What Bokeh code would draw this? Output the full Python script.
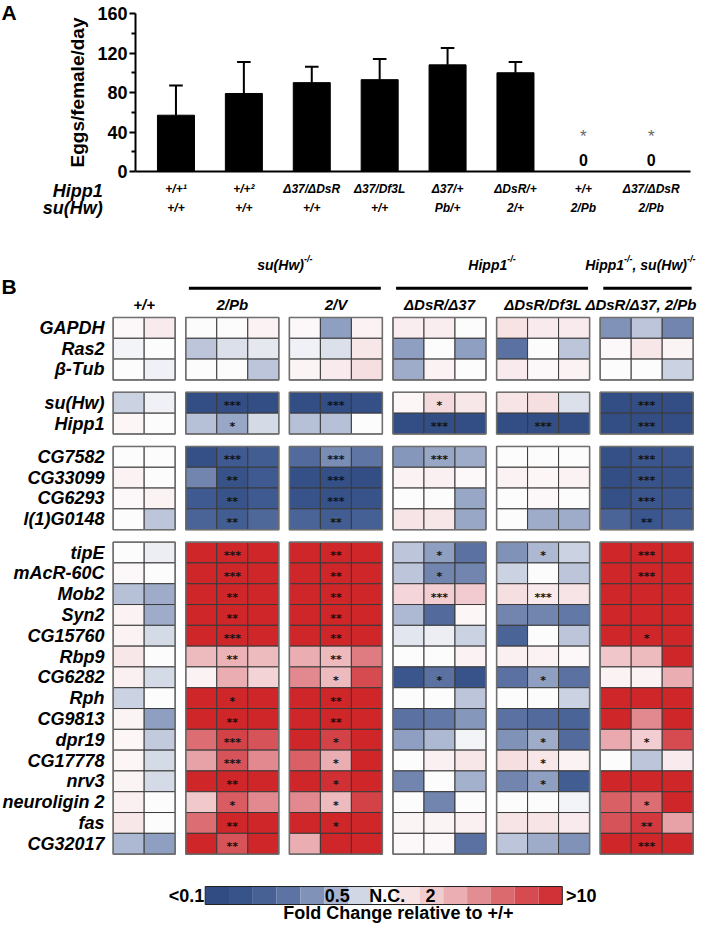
import numpy as np
from bokeh.plotting import figure
from bokeh.models import Range1d, FixedTicker
from bokeh.layouts import column, row
from bokeh.embed import file_html
from bokeh.resources import INLINE
from bokeh.core.properties import value

FONT = "Liberation Sans"

# ---------------- Panel A data ----------------
hipp1_geno = ["+/+¹", "+/+²", "Δ37/ΔDsR", "Δ37/Df3L", "Δ37/+", "ΔDsR/+", "+/+", "Δ37/ΔDsR"]
suhw_geno = ["+/+", "+/+", "+/+", "+/+", "Pb/+", "2/+", "2/Pb", "2/Pb"]
eggs = [57, 79, 90, 93, 108, 100, 0, 0]
eggs_err = [30, 32, 16, 21, 17, 11, 0, 0]
eggs_sig = ["", "", "", "", "", "", "*", "*"]
row_names_a = ["Hipp1", "su(Hw)"]
y_ticks = [0, 40, 80, 120, 160]
y_minor = [20, 60, 100, 140]

# ---------------- Panel B data ----------------
genes = ["GAPDH", "Ras2", "β-Tub", "su(Hw)", "Hipp1", "CG7582", "CG33099", "CG6293",
         "l(1)G0148", "tipE", "mAcR-60C", "Mob2", "Syn2", "CG15760", "Rbp9", "CG6282",
         "Rph", "CG9813", "dpr19", "CG17778", "nrv3", "neuroligin 2", "fas", "CG32017"]
gene_group = [0, 0, 0, 1, 1, 2, 2, 2, 2] + [3] * 15

# log10 fold change relative to +/+ (clipped to [-1, 1])
wt = [[0.02, 0.08], [-0.03, 0.0], [0.0, -0.04], [-0.15, -0.04], [0.03, 0.0],
      [0.0, 0.0], [0.05, 0.0], [0.02, 0.05], [0.0, -0.2],
      [0.0, -0.05], [0.02, 0.0], [-0.22, -0.3], [0.05, -0.3], [0.05, -0.12],
      [0.1, 0.0], [0.06, -0.12], [-0.15, 0.0], [0.04, -0.35], [0.03, -0.18],
      [0.03, -0.12], [0.04, -0.12], [0.06, 0.0], [0.1, 0.0], [-0.25, -0.35]]
pb2 = [[0, 0, 0.05], [-0.2, -0.1, -0.07], [0, 0, -0.2], [-0.9, -0.9, -0.9], [-0.22, -0.32, -0.12],
       [-0.85, -0.72, -0.7], [-0.45, -0.82, -0.72], [-0.72, -0.8, -0.72], [-0.65, -0.7, -0.62],
       [1, 1, 1], [1, 1, 1], [1, 1, 1], [1, 1, 1], [1, 1, 1],
       [0.35, 0.38, 0.35], [0.05, 0.4, 0.22], [1, 1, 1], [1, 1, 1], [0.65, 0.85, 0.75],
       [0.45, 0.75, 0.55], [1, 1, 1], [0.28, 0.72, 0.55], [0.65, 1, 1], [1, 0.75, 1]]
v2 = [[0.02, -0.35, 0.05], [-0.04, -0.1, 0.1], [0.04, 0.08, 0.15], [-0.9, -0.9, -0.85], [-0.22, -0.22, 0.0],
      [-0.6, -0.42, -0.52], [-0.85, -0.85, -0.9], [-0.8, -0.82, -0.8], [-0.65, -0.7, -0.68],
      [1, 1, 1], [1, 1, 1], [1, 1, 1], [1, 1, 1], [1, 1, 1],
      [0.4, 0.35, 0.6], [0.55, 0.35, 0.8], [1, 1, 1], [1, 1, 1], [1, 0.85, 1],
      [0.7, 0.4, 1], [1, 0.95, 1], [0.55, 0.35, 0.85], [1, 1, 1], [0.4, 1, 1]]
d37 = [[0.07, 0.07, 0.0], [-0.35, 0.0, -0.35], [-0.3, 0.05, 0.0], [0.03, 0.18, 0.1], [-0.9, -0.9, -0.9],
       [-0.38, -0.32, -0.3], [0.05, 0.06, 0.02], [0.0, 0.0, -0.32], [0.12, 0.1, -0.32],
       [-0.2, -0.35, -0.55], [-0.2, -0.45, -0.45], [0.2, 0.25, 0.27], [-0.25, -0.6, 0.03], [-0.08, -0.05, -0.15],
       [0.0, 0.0, 0.05], [-0.75, -0.55, -0.8], [0.0, 0.0, -0.2], [-0.55, -0.5, -0.38], [-0.35, -0.25, -0.03],
       [0.0, 0.06, 0.1], [-0.45, 0.0, -0.28], [0.0, -0.45, 0.0], [0.04, 0.04, 0.06], [0.02, 0.02, -0.55]]
df3l = [[0.13, 0.08, 0.08], [-0.55, 0.0, -0.2], [0.08, 0.02, 0.05], [0.12, 0.15, -0.1], [-0.9, -0.9, -0.9],
        [0.0, 0.0, 0.0], [0.05, 0.03, 0.05], [0.0, 0.02, 0.0], [0.0, -0.3, -0.3],
        [-0.4, -0.25, -0.15], [-0.15, 0.0, -0.2], [0.15, 0.08, 0.12], [-0.45, -0.45, -0.5], [-0.65, 0.0, -0.2],
        [0.06, 0.05, 0.02], [-0.55, -0.35, -0.55], [0.0, 0.0, -0.15], [-0.55, -0.6, -0.65], [-0.4, -0.3, -0.6],
        [0.15, 0.1, 0.05], [-0.45, -0.35, -0.7], [0.0, 0.0, -0.03], [0.12, 0.12, 0.08], [-0.2, -0.3, -0.4]]
dbl = [[-0.4, -0.2, -0.45], [0.02, 0.1, 0.04], [0.0, 0.0, -0.15], [-0.9, -0.9, -0.9], [-0.9, -0.9, -0.9],
       [-0.85, -0.75, -0.75], [-0.9, -0.8, -0.8], [-0.85, -0.75, -0.75], [-0.65, -0.75, -0.7],
       [1, 1, 1], [1, 1, 1], [1, 1, 1], [1, 1, 1], [1, 1, 1],
       [0.3, 0.35, 1], [0.05, 0.05, 0.4], [1, 1, 1], [1, 0.55, 1], [0.42, 0.25, 0.8],
       [0.0, -0.2, 0.08], [1, 1, 1], [0.7, 0.65, 1], [0.75, 0.9, 0.45], [1, 1, 1]]

stars_wt = [""] * 24
stars_pb2 = ["", "", "", "***", "*", "***", "**", "**", "**", "***", "***", "**", "**", "***",
             "**", "", "*", "**", "***", "***", "**", "*", "**", "**"]
stars_v2 = ["", "", "", "***", "", "***", "***", "***", "**", "**", "**", "**", "**", "**",
            "**", "*", "**", "**", "*", "*", "*", "*", "*", ""]
stars_d37 = ["", "", "", "*", "***", "***", "", "", "", "*", "*", "***", "", "",
             "", "*", "", "", "", "", "", "", "", ""]
stars_df3l = ["", "", "", "", "***", "", "", "", "", "*", "", "***", "", "",
              "", "*", "", "", "*", "*", "*", "", "", ""]
stars_dbl = ["", "", "", "***", "***", "***", "***", "***", "**", "***", "***", "", "", "*",
             "", "", "", "", "*", "", "", "*", "**", "***"]

block_names = ["+/+", "2/Pb", "2/V", "ΔDsR/Δ37", "ΔDsR/Df3L", "ΔDsR/Δ37, 2/Pb"]
block_values = [wt, pb2, v2, d37, df3l, dbl]
block_stars = [stars_wt, stars_pb2, stars_v2, stars_d37, stars_df3l, stars_dbl]
# group headers: pieces of (normal text, superscript text)
group_headers = [[("su(Hw)", "-/-")], [("Hipp1", "-/-")], [("Hipp1", "-/-"), (", su(Hw)", "-/-")]]
group_blocks = [(1, 2), (3, 4), (5, 5)]

cbar_levels = 15
cbar_labels = ["0.5", "N.C.", "2"]
cbar_label_frac = [0.37, 0.51, 0.631]

# colour scale (log10 fold change -> colour)
anchors = [(-1.0, (44, 72, 126)), (-0.75, (58, 86, 141)), (-0.5, (98, 120, 166)),
           (-0.3, (158, 172, 202)), (-0.15, (203, 210, 226)), (0.0, (253, 252, 253)),
           (0.1, (248, 231, 233)), (0.3, (240, 198, 202)), (0.5, (228, 150, 155)),
           (0.75, (214, 84, 89)), (1.0, (207, 38, 42))]


def fc_color(v):
    v = max(-1.0, min(1.0, v))
    for (a, ca), (b, cb) in zip(anchors[:-1], anchors[1:]):
        if a <= v <= b:
            t = (v - a) / (b - a)
            c = [int(round(ca[i] + t * (cb[i] - ca[i]))) for i in range(3)]
            return "#%02x%02x%02x" % tuple(c)
    return "#ffffff"


# rough text width estimate (Arial bold) for placing headers
CHW = {"s": .556, "u": .611, "(": .333, ")": .333, "H": .722, "w": .778, "i": .278,
       "p": .611, "1": .556, ",": .278, " ": .278, "-": .333, "/": .278, "Δ": .612,
       "D": .722, "R": .722, "3": .556, "7": .556, "2": .556, "P": .667, "b": .611,
       "f": .333, "L": .611, "V": .667, "+": .584}


def text_w(t, size):
    return sum(CHW.get(ch, .6) for ch in t) * size


def blank(width, height, xr, yr):
    f = figure(width=width, height=height, output_backend="svg", toolbar_location=None,
               x_range=xr, y_range=yr, x_axis_type=None, y_axis_type=None,
               min_border_left=0, min_border_right=0, min_border_top=0, min_border_bottom=0,
               frame_align=False)
    f.outline_line_color = None
    f.grid.visible = False
    f.background_fill_color = None
    f.border_fill_color = None
    return f


W = 698
HA1 = 181      # bar chart part of panel A
HS = 41        # genotype label strip of panel A
HB = 703       # panel B
BAR_PX = 67.9  # px between bars
LEFT_A = 26    # width of the "A" strip

# ================= Panel A =================
xa = list(range(len(eggs)))
labA = blank(LEFT_A, HA1, Range1d(0, LEFT_A), Range1d(-HA1, 0))
labA.text(x=[1], y=[0], text=["A"], text_font=value(FONT), text_font_style="bold",
          text_font_size="21px", text_align="left", text_baseline="top", text_color="black")

pa = figure(width=W - LEFT_A, height=HA1, output_backend="svg", toolbar_location=None,
            x_range=Range1d(-0.596, -0.596 + 555 / BAR_PX), y_range=Range1d(0, 160),
            min_border_left=109, min_border_right=8, min_border_top=13, min_border_bottom=10,
            frame_align=False)
pa.outline_line_color = None
pa.grid.visible = False
pa.background_fill_color = None
pa.border_fill_color = None

pa.vbar(x=xa, top=eggs, width=0.545, fill_color="black", line_color="black")
ex = [x for x, e in zip(xa, eggs_err) if e > 0]
ey0 = [v for v, e in zip(eggs, eggs_err) if e > 0]
ey1 = [v + e for v, e in zip(eggs, eggs_err) if e > 0]
pa.segment(x0=ex, y0=ey0, x1=ex, y1=ey1, line_color="black", line_width=2)
pa.segment(x0=[x - 0.1 for x in ex], y0=ey1, x1=[x + 0.1 for x in ex], y1=ey1,
           line_color="black", line_width=2)

zx = [x for x, v in zip(xa, eggs) if v == 0]
pa.text(x=zx, y=[12] * len(zx), text=[str(v) for v in eggs if v == 0],
        text_font=value(FONT), text_font_style="bold", text_font_size="16px",
        text_align="center", text_baseline="middle", text_color="black")
sx = [x for x, s in zip(xa, eggs_sig) if s]
pa.text(x=sx, y=[35] * len(sx), text=[s for s in eggs_sig if s],
        text_font=value(FONT), text_font_size="17px",
        text_align="center", text_baseline="middle", text_color="#666666")

yax = pa.yaxis[0]
yax.ticker = FixedTicker(ticks=y_ticks, minor_ticks=y_minor)
yax.axis_line_width = 2
yax.major_tick_line_width = 2
yax.minor_tick_line_width = 2
yax.major_tick_out = 6
yax.major_tick_in = 0
yax.minor_tick_out = 4
yax.minor_tick_in = 0
yax.major_label_text_font = FONT
yax.major_label_text_font_style = "bold"
yax.major_label_text_font_size = "18px"
yax.major_label_text_color = "black"
yax.major_label_standoff = 2
yax.axis_label = "Eggs/female/day"
yax.axis_label_text_font = FONT
yax.axis_label_text_font_style = "bold"
yax.axis_label_text_font_size = "19px"
yax.axis_label_text_color = "black"
yax.axis_label_standoff = 6

xax = pa.xaxis[0]
xax.ticker = FixedTicker(ticks=[])
xax.axis_line_width = 2
xax.major_tick_line_color = None
xax.minor_tick_line_color = None
xax.major_label_standoff = 0

# genotype label strip (same x scale as the bars)
sx0 = -0.596 - (143 - 8) / BAR_PX
strip = blank(W, HS, Range1d(sx0, sx0 + W / BAR_PX), Range1d(-HS, 0))
strip.text(x=xa, y=[-7.5] * len(xa), text=hipp1_geno, text_font=value(FONT),
           text_font_style="bold italic", text_font_size="12px", text_align="center",
           text_baseline="middle", text_color="black")
strip.text(x=xa, y=[-26] * len(xa), text=suhw_geno, text_font=value(FONT),
           text_font_style="bold italic", text_font_size="12px", text_align="center",
           text_baseline="middle", text_color="black")
strip.text(x=[-1.08, -1.08], y=[-9.5, -26], text=row_names_a, text_font=value(FONT),
           text_font_style="bold italic", text_font_size="18px", text_align="right",
           text_baseline="middle", text_color="black")

# ================= Panel B =================
CW = 31.0   # px per column
RH = 20.8   # px per row
x0 = -3.635
ytop = 5.067
xlim = x0 + (W - 3) / CW
pb = blank(W, HB, Range1d(x0, x0 + W / CW), Range1d(ytop - HB / RH, ytop))

GAP = 0.342
row_y = [-(i + 0.6 * g) for i, g in enumerate(gene_group)]

block_start = []
pos = 0.0
for k, vals in enumerate(block_values):
    block_start.append(pos)
    pos += len(vals[0]) + GAP

cx, cy, cc, sxs, sys_, stx = [], [], [], [], [], []
for k, (vals, stars) in enumerate(zip(block_values, block_stars)):
    ncol = len(vals[0])
    for r, rowv in enumerate(vals):
        for c, v in enumerate(rowv):
            cx.append(block_start[k] + c + 0.5)
            cy.append(row_y[r])
            cc.append(fc_color(v))
        if stars[r]:
            sxs.append(block_start[k] + ncol / 2.0)
            sys_.append(row_y[r] - 0.15)
            stx.append(stars[r])

pb.rect(x=cx, y=cy, width=1, height=1, fill_color=cc, line_color="#3a3a3a", line_width=1)
pb.text(x=sxs, y=sys_, text=stx, text_font=value("DejaVu Sans"), text_font_size="11px",
        text_font_style="bold", text_align="center", text_baseline="middle", text_color="#111111")

# group outlines
ox, oy, ow, oh = [], [], [], []
for k, vals in enumerate(block_values):
    ncol = len(vals[0])
    for g in range(4):
        rows = [r for r in range(len(genes)) if gene_group[r] == g]
        top = row_y[rows[0]] + 0.5
        bot = row_y[rows[-1]] - 0.5
        ox.append(block_start[k] + ncol / 2.0)
        oy.append((top + bot) / 2)
        ow.append(ncol)
        oh.append(top - bot)
pb.rect(x=ox, y=oy, width=ow, height=oh, fill_color=None, line_color="#707070", line_width=1.5)

# gene labels
pb.text(x=[-0.28] * len(genes), y=row_y, text=genes, text_font=value(FONT),
        text_font_style="bold italic", text_font_size="18px", text_align="right",
        text_baseline="middle", text_color="black")

# block sub-headers
SH = 15
bcen = []
for k, v in enumerate(block_values):
    c = block_start[k] + len(v[0]) / 2.0
    half = text_w(block_names[k], SH) / 2 / CW
    bcen.append(min(c, xlim - half))
pb.text(x=bcen, y=[1.125] * len(bcen), text=block_names, text_font=value(FONT),
        text_font_style="bold italic", text_font_size="%dpx" % SH, text_align="center",
        text_baseline="middle", text_color="black")

# group headers with lines
GH = 14     # header font px
SUP = 9     # superscript font px
lx0, lx1 = [], []
mt_x, mt_y, mt_t, sp_x, sp_y, sp_t = [], [], [], [], [], []
for (a, b), pieces in zip(group_blocks, group_headers):
    s = block_start[a] + 0.1
    e = block_start[b] + len(block_values[b][0]) - 0.05
    lx0.append(s)
    lx1.append(e)
    total = sum(text_w(t, GH) + text_w(sp, SUP) for t, sp in pieces) / CW
    start = min((s + e) / 2 - total / 2, xlim - total)
    cur = start
    for t, sp in pieces:
        mt_x.append(cur)
        mt_y.append(3.0)
        mt_t.append(t)
        cur += text_w(t, GH) / CW
        sp_x.append(cur)
        sp_y.append(3.3)
        sp_t.append(sp)
        cur += text_w(sp, SUP) / CW
pb.segment(x0=lx0, y0=[1.91] * 3, x1=lx1, y1=[1.91] * 3, line_color="black", line_width=3)
pb.text(x=mt_x, y=mt_y, text=mt_t, text_font=value(FONT), text_font_style="bold italic",
        text_font_size="%dpx" % GH, text_align="left", text_baseline="middle", text_color="black")
pb.text(x=sp_x, y=sp_y, text=sp_t, text_font=value(FONT), text_font_style="bold italic",
        text_font_size="%dpx" % SUP, text_align="left", text_baseline="middle", text_color="black")

pb.text(x=[x0 + 0.03], y=[2.52], text=["B"], text_font=value(FONT), text_font_style="bold",
        text_font_size="21px", text_align="left", text_baseline="top", text_color="black")

# colour bar
cb_x0 = 2.968
cb_w = 0.768
cb_y = -27.29
cb_h = 0.865
cb_len = cbar_levels * cb_w
lvl = [-1 + (k + 0.5) * 2.0 / cbar_levels for k in range(cbar_levels)]
pb.rect(x=[cb_x0 + (k + 0.5) * cb_w for k in range(cbar_levels)], y=[cb_y] * cbar_levels,
        width=cb_w, height=cb_h, fill_color=[fc_color(v) for v in lvl], line_color=None)
pb.rect(x=[cb_x0 + cb_len / 2], y=[cb_y], width=cb_len, height=cb_h,
        fill_color=None, line_color="#222222", line_width=1)
pb.text(x=[cb_x0 + f * cb_len for f in cbar_label_frac], y=[cb_y] * 3, text=cbar_labels,
        text_font=value(FONT), text_font_style="bold", text_font_size="18px",
        text_align="center", text_baseline="middle", text_color="black")
pb.text(x=[cb_x0 - 0.03], y=[cb_y], text=["<0.1"], text_font=value(FONT), text_font_style="bold",
        text_font_size="18px", text_align="right", text_baseline="middle", text_color="black")
pb.text(x=[cb_x0 + cb_len + 0.12], y=[cb_y], text=[">10"], text_font=value(FONT),
        text_font_style="bold", text_font_size="18px", text_align="left", text_baseline="middle",
        text_color="black")
pb.text(x=[9.2], y=[-28.12], text=["Fold Change relative to +/+"], text_font=value(FONT),
        text_font_style="bold", text_font_size="18px", text_align="center", text_baseline="middle",
        text_color="black")

layout = column(row(labA, pa, spacing=0), strip, pb, spacing=0)
open("out.html", "w").write(file_html(layout, INLINE))
